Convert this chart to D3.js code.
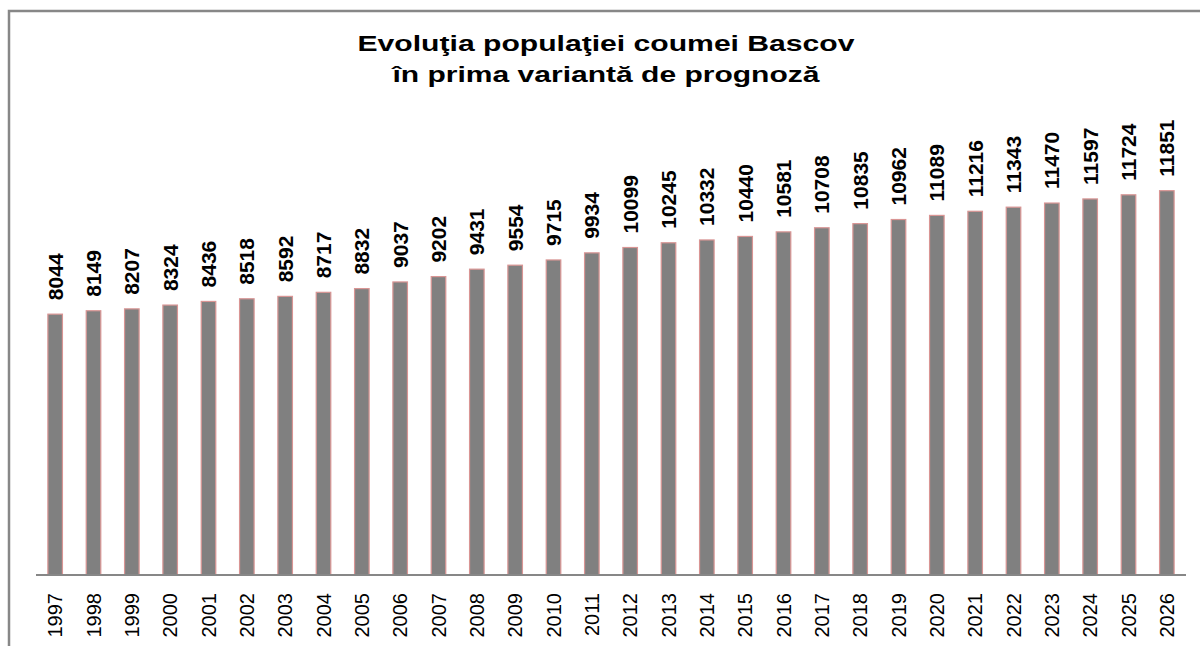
<!DOCTYPE html>
<html>
<head>
<meta charset="utf-8">
<script src="https://cdn.jsdelivr.net/npm/d3@7"></script>
<style>
  html, body { margin: 0; padding: 0; background: #fff; }
  svg { display: block; font-family: "Liberation Sans", Arial, sans-serif; }
</style>
</head>
<body>
<svg id="chart" width="1200" height="646"></svg>
<script>
// Population of Bascov commune, first forecast variant
const years = ["1997","1998","1999","2000","2001","2002","2003","2004","2005","2006",
               "2007","2008","2009","2010","2011","2012","2013","2014","2015","2016",
               "2017","2018","2019","2020","2021","2022","2023","2024","2025","2026"];
const population = [8044, 8149, 8207, 8324, 8436, 8518, 8592, 8717, 8832, 9037,
                    9202, 9431, 9554, 9715, 9934, 10099, 10245, 10332, 10440, 10581,
                    10708, 10835, 10962, 11089, 11216, 11343, 11470, 11597, 11724, 11851];
const titleLines = ["Evoluţia populaţiei coumei Bascov", "în prima variantă de prognoză"];
const titleWidths = [497, 427];

const svg = d3.select("#chart");

// chart frame (only the top and left edges fall inside the page)
svg.append("rect")
  .attr("x", 9).attr("y", 11)
  .attr("width", 1300).attr("height", 700)
  .attr("fill", "none")
  .attr("stroke", "#878787")
  .attr("stroke-width", 2.5);

const x = d3.scaleBand().domain(years).range([36, 1186]).paddingInner(0.62).paddingOuter(0.31);
const y = d3.scaleLinear().domain([0, 14000]).range([575, 121]);

// title, two centred lines in a wide bold face
svg.append("g").selectAll("text").data(titleLines).join("text")
  .attr("x", 606)
  .attr("y", (d, i) => 51 + i * 31)
  .attr("text-anchor", "middle")
  .attr("font-weight", "bold")
  .attr("font-size", 22)
  .attr("fill", "#000")
  .attr("textLength", (d, i) => titleWidths[i])
  .attr("lengthAdjust", "spacingAndGlyphs")
  .text(d => d);

// bars
svg.append("g").selectAll("rect").data(population).join("rect")
  .attr("x", (d, i) => x(years[i]))
  .attr("y", d => y(d))
  .attr("width", x.bandwidth())
  .attr("height", d => y(0) - y(d))
  .attr("fill", "#808080")
  .attr("stroke", "#d99594")
  .attr("stroke-width", 1.2);

// category axis line
svg.append("line")
  .attr("x1", 36).attr("x2", 1186)
  .attr("y1", y(0)).attr("y2", y(0))
  .attr("stroke", "#878787").attr("stroke-width", 2);

// value labels above bars
svg.append("g").selectAll("text").data(population).join("text")
  .attr("transform", (d, i) => `translate(${x(years[i]) + x.bandwidth() / 2},${y(d) - 14}) rotate(-90)`)
  .attr("dy", "0.36em")
  .attr("text-anchor", "start")
  .attr("font-size", 21)
  .attr("font-weight", "bold")
  .attr("fill", "#000")
  .text(d => d);

// year labels
svg.append("g").selectAll("text").data(years).join("text")
  .attr("transform", d => `translate(${x(d) + x.bandwidth() / 2},593) rotate(-90)`)
  .attr("dy", "0.36em")
  .attr("text-anchor", "end")
  .attr("font-size", 20)
  .attr("fill", "#000")
  .text(d => d);
</script>
</body>
</html>
